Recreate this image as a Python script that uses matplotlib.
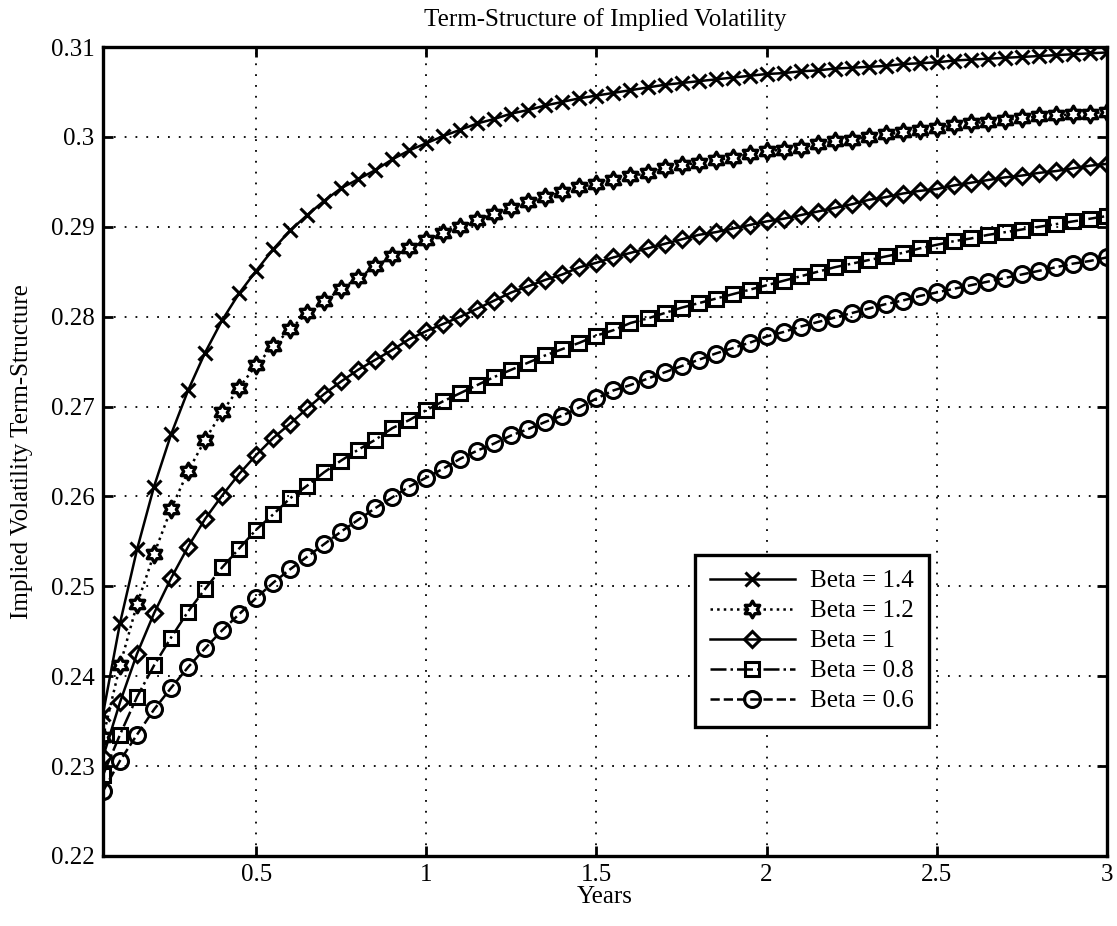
import numpy as np
import matplotlib
matplotlib.use("Agg")
import matplotlib.pyplot as plt
from matplotlib.path import Path

# Maturities in years (0.05 to 3.00 in steps of 0.05)
years = np.arange(1, 61) * 0.05

beta_14 = [0.2358, 0.2459, 0.2541, 0.2611, 0.2669, 0.2718, 0.2760, 0.2796, 0.2826, 0.2851,
           0.2875, 0.2896, 0.2913, 0.2929, 0.2943, 0.2953, 0.2963, 0.2975, 0.2985, 0.2993,
           0.3001, 0.3008, 0.3015, 0.3020, 0.3026, 0.3030, 0.3035, 0.3039, 0.3043, 0.3046,
           0.3049, 0.3052, 0.3055, 0.3058, 0.3060, 0.3062, 0.3064, 0.3066, 0.3068, 0.3070,
           0.3071, 0.3073, 0.3074, 0.3076, 0.3077, 0.3078, 0.3079, 0.3081, 0.3082, 0.3083,
           0.3085, 0.3086, 0.3087, 0.3088, 0.3089, 0.3090, 0.3091, 0.3092, 0.3093, 0.3094]

beta_12 = [0.2332, 0.2412, 0.2480, 0.2536, 0.2586, 0.2628, 0.2663, 0.2694, 0.2721, 0.2746,
           0.2767, 0.2786, 0.2804, 0.2817, 0.2831, 0.2843, 0.2856, 0.2867, 0.2876, 0.2885,
           0.2893, 0.2900, 0.2908, 0.2914, 0.2921, 0.2928, 0.2933, 0.2939, 0.2944, 0.2948,
           0.2952, 0.2956, 0.2960, 0.2965, 0.2969, 0.2971, 0.2974, 0.2977, 0.2981, 0.2984,
           0.2986, 0.2988, 0.2992, 0.2995, 0.2997, 0.3000, 0.3003, 0.3005, 0.3008, 0.3010,
           0.3013, 0.3015, 0.3017, 0.3019, 0.3021, 0.3023, 0.3024, 0.3025, 0.3026, 0.3028]

beta_10 = [0.2310, 0.2371, 0.2425, 0.2470, 0.2509, 0.2544, 0.2575, 0.2601, 0.2625, 0.2646,
           0.2665, 0.2681, 0.2698, 0.2714, 0.2728, 0.2741, 0.2752, 0.2763, 0.2775, 0.2784,
           0.2792, 0.2800, 0.2809, 0.2818, 0.2827, 0.2834, 0.2841, 0.2847, 0.2855, 0.2860,
           0.2866, 0.2871, 0.2876, 0.2881, 0.2886, 0.2891, 0.2894, 0.2898, 0.2902, 0.2906,
           0.2909, 0.2913, 0.2917, 0.2921, 0.2925, 0.2930, 0.2933, 0.2937, 0.2940, 0.2942,
           0.2946, 0.2949, 0.2952, 0.2955, 0.2957, 0.2960, 0.2962, 0.2965, 0.2968, 0.2970]

beta_08 = [0.2290, 0.2335, 0.2377, 0.2412, 0.2443, 0.2472, 0.2497, 0.2521, 0.2542, 0.2563,
           0.2580, 0.2598, 0.2612, 0.2627, 0.2640, 0.2652, 0.2663, 0.2676, 0.2685, 0.2696,
           0.2706, 0.2715, 0.2724, 0.2733, 0.2741, 0.2749, 0.2757, 0.2764, 0.2771, 0.2779,
           0.2785, 0.2793, 0.2798, 0.2804, 0.2810, 0.2815, 0.2820, 0.2825, 0.2830, 0.2835,
           0.2840, 0.2845, 0.2850, 0.2855, 0.2859, 0.2863, 0.2867, 0.2871, 0.2876, 0.2880,
           0.2884, 0.2887, 0.2891, 0.2894, 0.2897, 0.2900, 0.2903, 0.2906, 0.2909, 0.2912]

beta_06 = [0.2272, 0.2306, 0.2335, 0.2363, 0.2387, 0.2410, 0.2431, 0.2451, 0.2469, 0.2487,
           0.2504, 0.2519, 0.2533, 0.2547, 0.2561, 0.2574, 0.2587, 0.2599, 0.2611, 0.2621,
           0.2631, 0.2642, 0.2651, 0.2659, 0.2668, 0.2675, 0.2683, 0.2690, 0.2699, 0.2709,
           0.2718, 0.2724, 0.2731, 0.2738, 0.2745, 0.2752, 0.2759, 0.2765, 0.2771, 0.2778,
           0.2783, 0.2789, 0.2794, 0.2799, 0.2804, 0.2809, 0.2814, 0.2818, 0.2823, 0.2827,
           0.2831, 0.2835, 0.2839, 0.2843, 0.2847, 0.2851, 0.2855, 0.2859, 0.2862, 0.2866]

series_labels = ["Beta = 1.4", "Beta = 1.2", "Beta = 1", "Beta = 0.8", "Beta = 0.6"]

x_ticks = [0.5, 1, 1.5, 2, 2.5, 3]
x_tick_labels = ["0.5", "1", "1.5", "2", "2.5", "3"]
y_ticks = [0.22, 0.23, 0.24, 0.25, 0.26, 0.27, 0.28, 0.29, 0.30, 0.31]
y_tick_labels = ["0.22", "0.23", "0.24", "0.25", "0.26", "0.27", "0.28", "0.29", "0.3", "0.31"]

plt.rcParams["font.family"] = ["Liberation Serif", "DejaVu Serif"]
FS = 18
plt.rcParams["font.size"] = FS

# Six-pointed star (hexagram) marker
hexagram = Path.unit_regular_star(6, 0.5774)

styles = [
    dict(ls="-", marker="x", ms=9.5, mew=2.2),
    dict(ls=":", marker=hexagram, ms=12, mew=2.4, mfc="white"),
    dict(ls="-", marker="D", ms=8.5, mew=2.2, mfc="none"),
    dict(ls="-.", marker="s", ms=9.5, mew=2.2, mfc="none"),
    dict(ls="--", marker="o", ms=11.5, mew=2.2, mfc="none"),
]
all_series = [beta_14, beta_12, beta_10, beta_08, beta_06]

fig = plt.figure(figsize=(11.17, 9.26), dpi=100)
ax = fig.add_axes([0.0922, 0.0756, 0.8988, 0.8736])

for vals, lab, st in zip(all_series, series_labels, styles):
    ax.plot(years, vals, color="black", lw=1.8, mec="black", label=lab, **st)

ax.set_xlim(0.05, 3.0)
ax.set_ylim(0.22, 0.31)
ax.set_xticks(x_ticks)
ax.set_xticklabels(x_tick_labels)
ax.set_yticks(y_ticks)
ax.set_yticklabels(y_tick_labels)

ax.grid(True, color="black", linestyle=(0, (1, 5)), linewidth=1.3)
ax.set_axisbelow(True)

for sp in ax.spines.values():
    sp.set_linewidth(2.4)
ax.tick_params(direction="in", top=True, right=True, length=7, width=2.0,
               labelsize=FS, pad=6)

ax.set_title("Term-Structure of Implied Volatility", fontsize=FS, pad=15)
ax.set_xlabel("Years", fontsize=FS, labelpad=0)
ax.set_ylabel("Implied Volatility Term-Structure", fontsize=FS, labelpad=13)

leg = ax.legend(loc="upper left", bbox_to_anchor=(0.5896, 0.3721), borderaxespad=0,
                numpoints=1, handlelength=3.4, labelspacing=0.3, fontsize=FS,
                fancybox=False, framealpha=1, edgecolor="black",
                borderpad=0.6, handletextpad=0.6)
leg.get_frame().set_linewidth(2.4)

fig.savefig("out.png", dpi=100)
